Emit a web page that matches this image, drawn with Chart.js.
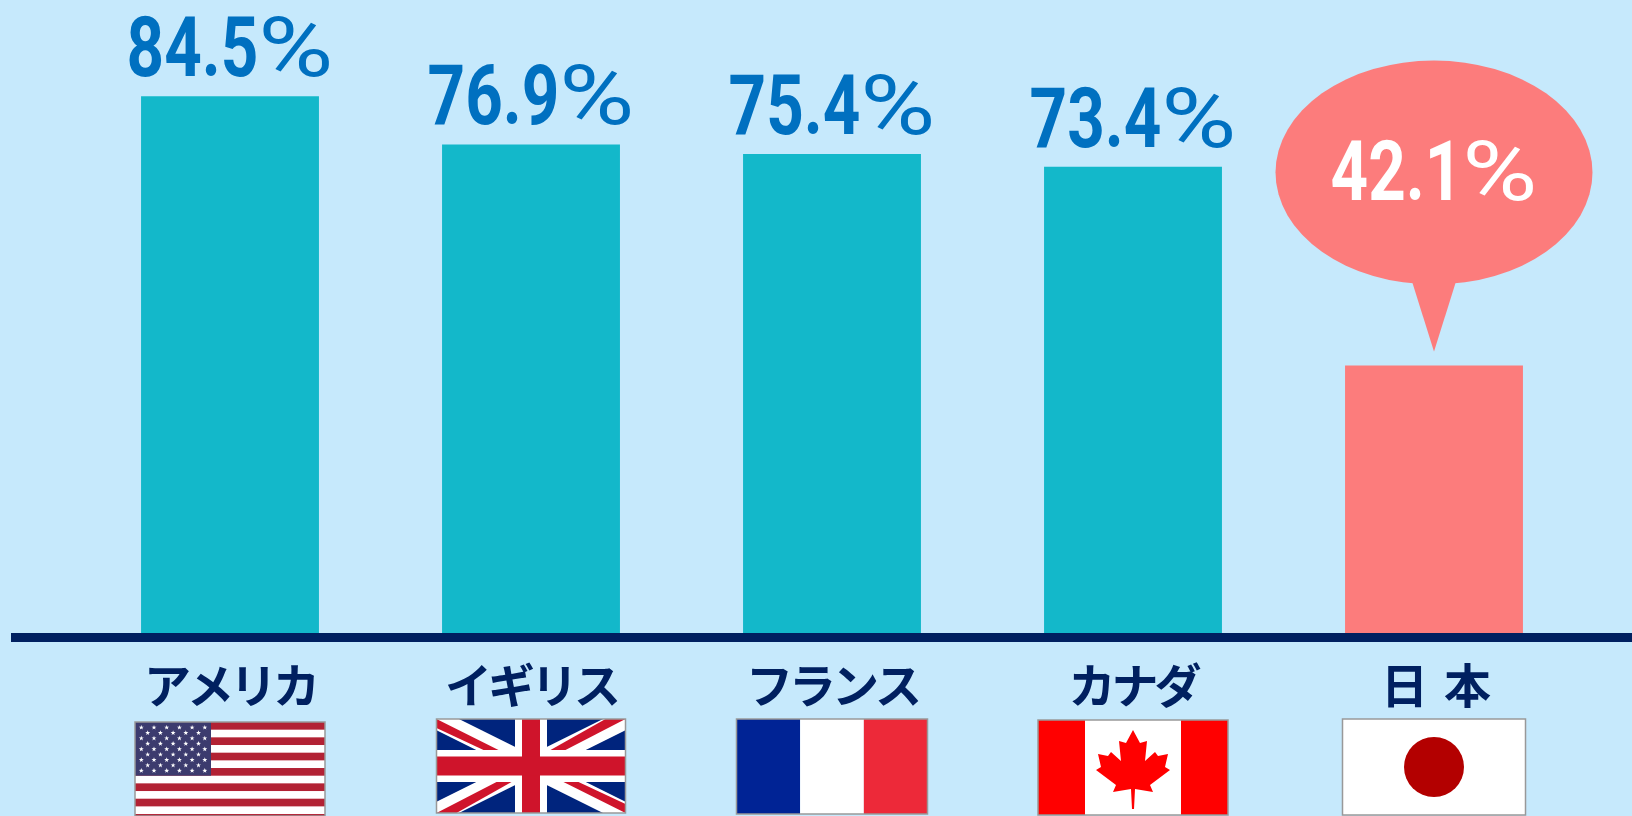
<!DOCTYPE html>
<html lang="ja">
<head>
<meta charset="utf-8">
<title>chart</title>
<script src="https://cdn.jsdelivr.net/npm/chart.js@4"></script>
<style>
    html, body { margin: 0; padding: 0; background: #C6E9FC; }
    canvas { display: block; }
</style>
</head>
<body>
<canvas id="chart" width="1632" height="816"></canvas>
<script>
// Data
const categories = ['アメリカ', 'イギリス', 'フランス', 'カナダ', '日   本'];
const values = [84.5, 76.9, 75.4, 73.4, 42.1];
const barColors = ['#13B8CA', '#13B8CA', '#13B8CA', '#13B8CA', '#FC7C7C'];
const flagOrder = ['us', 'uk', 'fr', 'ca', 'jp'];

const NAVY = '#002060';

function star(ctx, x, y, r) {
    ctx.beginPath();
    for (let i = 0; i < 10; i++) {
        const a = -Math.PI / 2 + i * Math.PI / 5;
        const d = i % 2 ? r * 0.4 : r;
        ctx.lineTo(x + Math.cos(a) * d, y + Math.sin(a) * d);
    }
    ctx.closePath();
    ctx.fill();
}

function poly(ctx, points) {
    ctx.beginPath();
    points.forEach(([x, y]) => ctx.lineTo(x, y));
    ctx.closePath();
    ctx.fill();
}

// Flags, each one drawn in a local box w x h
const flagPainters = {
    us(ctx, w, h) {
        const s = 7.67;
        ctx.fillStyle = '#fff';
        ctx.fillRect(0, 0, w, h);
        ctx.fillStyle = '#B22234';
        for (let i = 0; i < 13; i += 2) ctx.fillRect(0, i * s, w, s);
        ctx.fillStyle = '#3C3B6E';
        ctx.fillRect(0, 0, 76, s * 7);
        ctx.fillStyle = '#fff';
        for (let r = 0; r < 9; r++) {
            const n = r % 2 ? 5 : 6;
            for (let c = 0; c < n; c++) {
                star(ctx, (r % 2 ? 12.7 : 6.3) + c * 12.7, 5.5 + r * 5.4, 2.6);
            }
        }
    },
    uk(ctx, w, h) {
        ctx.fillStyle = '#00247D';
        ctx.fillRect(0, 0, w, h);
        ctx.strokeStyle = '#fff';
        ctx.lineWidth = 20;
        ctx.beginPath();
        ctx.moveTo(0, 0);
        ctx.lineTo(w, h);
        ctx.moveTo(w, 0);
        ctx.lineTo(0, h);
        ctx.stroke();
        // red diagonals sit off-centre inside the white ones
        ctx.fillStyle = '#CF142B';
        poly(ctx, [[0, 0], [62, 31], [47, 31], [0, 9]]);
        poly(ctx, [[w, h], [w - 62, h - 31], [w - 47, h - 31], [w, h - 9]]);
        poly(ctx, [[w - 20, 0], [w, 0], [w - 60, 31], [w - 75, 31]]);
        poly(ctx, [[20, h], [0, h], [60, h - 31], [75, h - 31]]);
        ctx.fillStyle = '#fff';
        ctx.fillRect(w / 2 - 16, 0, 32, h);
        ctx.fillRect(0, h / 2 - 16, w, 32);
        ctx.fillStyle = '#CF142B';
        ctx.fillRect(w / 2 - 9, 0, 18, h);
        ctx.fillRect(0, h / 2 - 9.5, w, 19);
    },
    fr(ctx, w, h) {
        ctx.fillStyle = '#002395';
        ctx.fillRect(0, 0, w / 3, h);
        ctx.fillStyle = '#fff';
        ctx.fillRect(w / 3, 0, w / 3, h);
        ctx.fillStyle = '#ED2939';
        ctx.fillRect(w * 2 / 3, 0, w / 3, h);
    },
    ca(ctx, w, h) {
        ctx.fillStyle = '#fff';
        ctx.fillRect(0, 0, w, h);
        ctx.fillStyle = '#FF0000';
        ctx.fillRect(0, 0, 47, h);
        ctx.fillRect(w - 47, 0, 47, h);
        // half of the maple leaf, mirrored
        const leaf = [[0, 10], [7, 23], [14, 21], [12, 41], [22, 32], [25, 36], [35, 34], [32, 47], [37, 50], [17, 65], [20, 72], [2, 69], [1, 89]];
        const cx = w / 2;
        poly(ctx, leaf.map(([x, y]) => [cx + x, y]).concat(leaf.slice().reverse().map(([x, y]) => [cx - x, y])));
    },
    jp(ctx, w, h) {
        ctx.fillStyle = '#fff';
        ctx.fillRect(0, 0, w, h);
        ctx.fillStyle = '#B30000';
        ctx.beginPath();
        ctx.arc(w / 2, h / 2, 30, 0, Math.PI * 2);
        ctx.fill();
    }
};

// Sizes and tops of flag boxes
const flagBoxes = {
    us: { w: 190, h: 94, top: 722 },
    uk: { w: 189, h: 94, top: 719 },
    fr: { w: 191, h: 95, top: 719 },
    ca: { w: 190, h: 95, top: 720 },
    jp: { w: 183, h: 96, top: 719 }
};

// Digits are squeezed, the percent sign is thin and wide
function drawValue(ctx, value, x, baseline, color) {
    const digits = value.toFixed(1);
    const digitFont = 'bold 84px Roboto, sans-serif';
    const percentFont = '400 84px Roboto, sans-serif';
    const digitScale = 0.78;
    const percentScale = 1.22;
    ctx.save();
    ctx.fillStyle = color;
    ctx.textAlign = 'left';
    ctx.textBaseline = 'alphabetic';
    ctx.font = digitFont;
    const digitWidth = ctx.measureText(digits).width * digitScale;
    ctx.font = percentFont;
    const percentWidth = ctx.measureText('%').width * percentScale;
    const left = x - (digitWidth + percentWidth) / 2;

    ctx.save();
    ctx.translate(left, baseline);
    ctx.scale(digitScale, 1);
    ctx.font = digitFont;
    ctx.fillText(digits, 0, 0);
    ctx.restore();

    ctx.save();
    ctx.translate(left + digitWidth, baseline);
    ctx.scale(percentScale, 1);
    ctx.font = percentFont;
    ctx.fillText('%', 0, 0);
    ctx.restore();
    ctx.restore();
}

const decorPlugin = {
    id: 'decor',
    beforeDraw(chart) {
        // tighter Japanese labels, as in the original
        chart.ctx.letterSpacing = '-4px';
    },
    afterDatasetsDraw(chart) {
        const ctx = chart.ctx;
        ctx.letterSpacing = '0px';
        const bars = chart.getDatasetMeta(0).data;
        const bottom = chart.scales.y.getPixelForValue(0);

        // Base line
        ctx.save();
        ctx.fillStyle = NAVY;
        ctx.fillRect(11, bottom, chart.width - 11, 9);
        ctx.restore();

        // Flags
        flagOrder.forEach((key, i) => {
            const box = flagBoxes[key];
            const left = bars[i].x - box.w / 2;
            ctx.save();
            ctx.translate(left, box.top);
            ctx.beginPath();
            ctx.rect(0, 0, box.w, box.h);
            ctx.clip();
            flagPainters[key](ctx, box.w, box.h);
            ctx.restore();
            ctx.save();
            ctx.strokeStyle = '#999999';
            ctx.lineWidth = 1.5;
            ctx.strokeRect(left, box.top, box.w, box.h);
            ctx.restore();
        });

        // Value labels
        bars.forEach((bar, i) => {
            if (i === bars.length - 1) return;
            drawValue(ctx, values[i], bar.x, bar.y - 20, '#0070C0');
        });

        // Speech bubble for the last bar
        const last = bars[bars.length - 1];
        ctx.save();
        ctx.fillStyle = '#FC7C7C';
        ctx.beginPath();
        ctx.ellipse(last.x, last.y - 193, 158.5, 112, 0, 0, Math.PI * 2);
        ctx.fill();
        poly(ctx, [[last.x - 22, last.y - 84], [last.x, last.y - 14], [last.x + 22, last.y - 84]]);
        ctx.restore();
        drawValue(ctx, values[bars.length - 1], last.x, last.y - 166, '#FFFFFF');
    }
};

new Chart(document.getElementById('chart').getContext('2d'), {
    type: 'bar',
    data: {
        labels: categories,
        datasets: [{
            data: values,
            backgroundColor: barColors,
            borderWidth: 0,
            categoryPercentage: 1,
            barPercentage: 0.591
        }]
    },
    options: {
        responsive: false,
        animation: false,
        layout: { padding: { left: 79.5, right: 47.5, top: 4, bottom: 0 } },
        plugins: {
            legend: { display: false },
            tooltip: { enabled: false }
        },
        scales: {
            x: {
                grid: { display: false },
                border: { display: false },
                afterFit(scale) { scale.height = 183; },
                ticks: {
                    autoSkip: false,
                    maxRotation: 0,
                    padding: 16,
                    color: NAVY,
                    font: { family: '"Noto Sans CJK JP", sans-serif', size: 47, weight: 'bold' }
                }
            },
            y: {
                display: false,
                min: 0,
                max: 99
            }
        }
    },
    plugins: [decorPlugin]
});
</script>
</body>
</html>
